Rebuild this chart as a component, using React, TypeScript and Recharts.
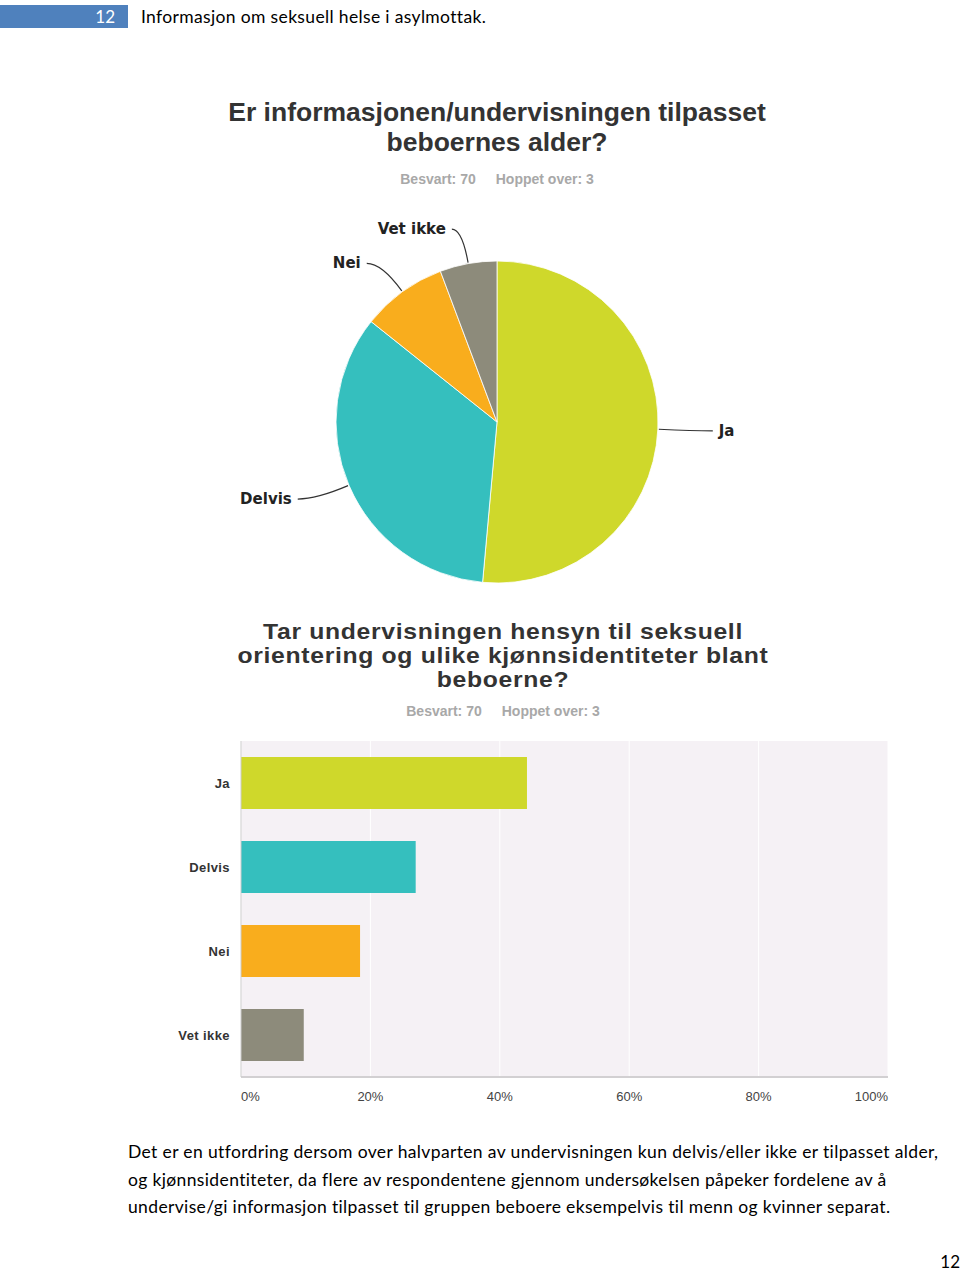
import React from "react";
import { PieChart, Pie, Cell, BarChart, Bar, XAxis, YAxis, CartesianGrid } from "recharts";

const categories = ["Ja", "Delvis", "Nei", "Vet ikke"];
const sliceColors = ["#cfd82b", "#35bfbe", "#f9ad1d", "#8d8b7b"];

// pie: antall svar (Besvart 70)
const ageCounts = [36, 24, 6, 4];
// bar: prosent
const orientationPct = [44.2, 27.0, 18.4, 9.7];
const xTicks = [0, 20, 40, 60, 80, 100];

const pieData = categories.map((name, i) => ({ name, value: ageCounts[i] }));
const barData = categories.map((name, i) => ({ name, pct: orientationPct[i] }));

const RADIAN = Math.PI / 180;
const bodyFont = "Lato, 'Open Sans', sans-serif";
const titleFont = "'Liberation Sans', Arial, sans-serif";

function PieLabel(props: any) {
  const { cx, cy, midAngle, outerRadius, name } = props;
  const cos = Math.cos(-midAngle * RADIAN);
  const sin = Math.sin(-midAngle * RADIAN);
  const sx = cx + (outerRadius + 1) * cos;
  const sy = cy + (outerRadius + 1) * sin;
  const mx = cx + (outerRadius + 35) * cos;
  const my = cy + (outerRadius + 35) * sin;
  const side = cos >= 0 ? 1 : -1;
  const ex = mx + side * (8 + 12 * Math.abs(cos));
  const ey = my;
  return (
    <g>
      <path d={`M${sx},${sy} Q${mx},${my} ${ex},${ey}`} stroke="#333" strokeWidth={1.2} fill="none" />
      <text
        x={ex + side * 6}
        y={ey}
        textAnchor={side > 0 ? "start" : "end"}
        dominantBaseline="central"
        fontFamily="'DejaVu Sans', sans-serif"
        fontWeight="bold"
        fontSize={15}
        fill="#222"
      >
        {name}
      </text>
    </g>
  );
}

function YTick(props: any) {
  const { x, y, payload } = props;
  return (
    <text x={x} y={y} textAnchor="end" dominantBaseline="central" fontFamily={titleFont} fontWeight="bold" fontSize={13} letterSpacing={0.4} fill="#333">
      {payload.value}
    </text>
  );
}

function XTick(props: any) {
  const { x, y, payload } = props;
  const v = payload.value;
  const anchor = v === 0 ? "start" : v === 100 ? "end" : "middle";
  return (
    <text x={x} y={y} dy="0.71em" textAnchor={anchor} fontFamily={titleFont} fontSize={13} fill="#444">
      {v}%
    </text>
  );
}

const abs = (left: number, top: number, extra: React.CSSProperties = {}): React.CSSProperties => ({
  position: "absolute",
  left,
  top,
  ...extra,
});

export default function App() {
  return (
    <div style={{ position: "absolute", left: 0, top: 0, width: 960, height: 1271, background: "#fff", overflow: "hidden" }}>
      {/* header */}
      <div style={abs(0, 5, { width: 128, height: 23, background: "#4f81bd" })} />
      <div style={abs(0, 5, { width: 115, height: 23, lineHeight: "23px", textAlign: "right", color: "#fff", fontFamily: bodyFont, fontSize: 17 })}>
        12
      </div>
      <div style={abs(141, 5, { height: 23, lineHeight: "23px", color: "#000", fontFamily: bodyFont, fontSize: 17.5, letterSpacing: 0.35, whiteSpace: "nowrap" })}>
        Informasjon om seksuell helse i asylmottak.
      </div>

      {/* pie title */}
      <div style={abs(0, 97, { width: 994, textAlign: "center", fontFamily: titleFont, fontWeight: "bold", fontSize: 26.5, lineHeight: "30px", color: "#333" })}>
        Er informasjonen/undervisningen tilpasset
        <br />
        beboernes alder?
      </div>
      <div style={abs(0, 171, { width: 994, textAlign: "center", fontFamily: titleFont, fontWeight: "bold", fontSize: 14, color: "#a8a8a8" })}>
        Besvart: 70<span style={{ display: "inline-block", width: 20 }} />Hoppet over: 3
      </div>

      <div style={abs(192, 217)}>
        <PieChart width={600} height={400}>
          <Pie
            data={pieData}
            dataKey="value"
            nameKey="name"
            cx={300}
            cy={200}
            outerRadius={161}
            startAngle={90}
            endAngle={-270}
            stroke="#fff"
            strokeWidth={0.8}
            label={PieLabel}
            labelLine={false}
            isAnimationActive={false}
          >
            {pieData.map((d, i) => (
              <Cell key={d.name} fill={sliceColors[i]} />
            ))}
          </Pie>
        </PieChart>
      </div>

      {/* bar title */}
      <div
        style={abs(0, 620, {
          width: 1006,
          textAlign: "center",
          fontFamily: titleFont,
          fontWeight: "bold",
          fontSize: 22.5,
          lineHeight: "24px",
          letterSpacing: 0.6,
          color: "#333",
          transform: "scaleX(1.1)",
          transformOrigin: "503px 0",
        })}
      >
        <div>Tar undervisningen hensyn til seksuell</div>
        <div>orientering og ulike kjønnsidentiteter blant</div>
        <div>beboerne?</div>
      </div>
      <div style={abs(0, 703, { width: 1006, textAlign: "center", fontFamily: titleFont, fontWeight: "bold", fontSize: 14, color: "#a8a8a8" })}>
        Besvart: 70<span style={{ display: "inline-block", width: 20 }} />Hoppet over: 3
      </div>

      <div style={abs(0, 731)}>
        <BarChart
          width={960}
          height={386}
          data={barData}
          layout="vertical"
          margin={{ top: 10, right: 72, left: 160, bottom: 0 }}
          barCategoryGap={16}
        >
          <CartesianGrid horizontal={false} vertical stroke="#ffffff" fill="#f5f1f5" fillOpacity={1} />
          <XAxis
            type="number"
            domain={[0, 100]}
            ticks={xTicks}
            height={40}
            tickSize={0}
            tickMargin={15}
            tick={<XTick />}
            axisLine={{ stroke: "#d2d0d2", strokeWidth: 2 }}
            tickLine={false}
          />
          <YAxis
            type="category"
            dataKey="name"
            width={81}
            tickSize={0}
            tickMargin={11}
            tick={<YTick />}
            axisLine={{ stroke: "#cccccc" }}
            tickLine={false}
          />
          <Bar dataKey="pct" barSize={52} isAnimationActive={false}>
            {barData.map((d, i) => (
              <Cell key={d.name} fill={sliceColors[i]} />
            ))}
          </Bar>
        </BarChart>
      </div>

      {/* paragraph */}
      <div style={abs(128, 1138, { width: 830, fontFamily: bodyFont, fontSize: 17.5, letterSpacing: 0.36, lineHeight: "27.5px", color: "#000" })}>
        <div style={{ whiteSpace: "nowrap" }}>Det er en utfordring dersom over halvparten av undervisningen kun delvis/eller ikke er tilpasset alder,</div>
        <div style={{ whiteSpace: "nowrap" }}>og kjønnsidentiteter, da flere av respondentene gjennom undersøkelsen påpeker fordelene av å</div>
        <div style={{ whiteSpace: "nowrap" }}>undervise/gi informasjon tilpasset til gruppen beboere eksempelvis til menn og kvinner separat.</div>
      </div>
      <div style={abs(900, 1251, { width: 60, textAlign: "right", fontFamily: bodyFont, fontSize: 17, color: "#000" })}>12</div>
    </div>
  );
}
